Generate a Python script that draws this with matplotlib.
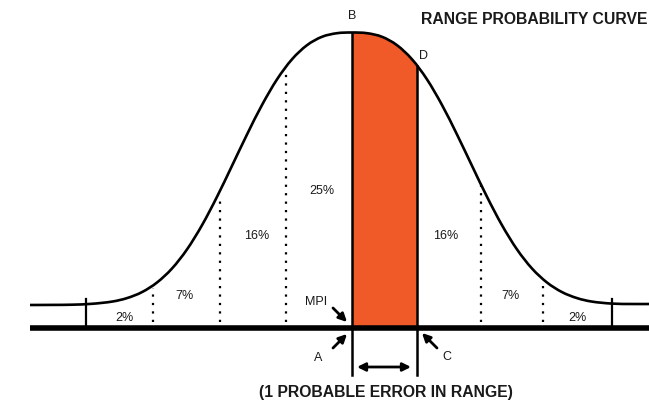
#!/usr/bin/env python3
"""Range probability curve: bell curve with 1 probable error band shaded."""
import matplotlib
matplotlib.use("Agg")
import matplotlib.pyplot as plt
from matplotlib.path import Path
from matplotlib.patches import PathPatch, Rectangle

plt.rcParams["font.family"] = ["Liberation Sans", "DejaVu Sans"]

# curve: horizontal position, height above the base line
curve_x = [30, 52, 72, 92, 112, 127, 142, 157, 172, 187, 202, 217, 232, 247, 262,
           277, 292, 307, 322, 337, 352, 367, 382, 397, 412, 427, 442, 457, 472,
           487, 502, 517, 532, 547, 562, 577, 592, 612, 632, 649]
curve_h = [23, 23.1, 23.3, 24.2, 26.4, 29.9, 35.9, 45.5, 59.5, 78.6, 102.8, 131.2,
           162.2, 193.5, 223.0, 248.6, 268.7, 282.8, 291.2, 294.8, 295.5, 294.8,
           291.2, 282.8, 268.7, 248.6, 223.0, 193.5, 162.2, 131.2, 102.8, 78.6,
           59.5, 45.5, 35.9, 29.9, 26.4, 24.4, 24, 24]

# band of one probable error (MPI -> D)
band_lo, band_hi = 352, 417
band_top = {352: 295.5, 417: 262}

# dotted dividers and their tops
div_x = [153, 220, 286, 481, 543]
div_top = [40, 130, 257, 143, 45]
tick_x = [86, 612]

pct_labels = ["2%", "7%", "16%", "25%", "16%", "7%", "2%"]
pct_x = [124, 184, 257, 322, 446, 510, 577]
pct_h = [10, 32, 92, 137, 92, 32, 10]

ORANGE = "#f05a28"
INK = "#1a1a1a"


def smooth_path(xs, ys):
    """Bezier path through the traced points (Catmull-Rom tangents)."""
    pts = list(zip(xs, ys))
    verts = [pts[0]]
    codes = [Path.MOVETO]
    n = len(pts)
    for i in range(n - 1):
        p0 = pts[max(i - 1, 0)]
        p1 = pts[i]
        p2 = pts[i + 1]
        p3 = pts[min(i + 2, n - 1)]
        c1 = (p1[0] + (p2[0] - p0[0]) / 6, p1[1] + (p2[1] - p0[1]) / 6)
        c2 = (p2[0] - (p3[0] - p1[0]) / 6, p2[1] - (p3[1] - p1[1]) / 6)
        verts += [c1, c2, p2]
        codes += [Path.CURVE4] * 3
    return verts, codes


fig = plt.figure(figsize=(6.49, 4.03), dpi=100)
ax = fig.add_axes([0, 0, 1, 1])
ax.set_xlim(0, 649)
ax.set_ylim(-75, 328)
ax.axis("off")

verts, codes = smooth_path(curve_x, curve_h)

# orange band, clipped to the area under the curve
area = Path(verts + [(curve_x[-1], 0), (curve_x[0], 0), (curve_x[0], 0)],
            codes + [Path.LINETO, Path.LINETO, Path.CLOSEPOLY])
clip = PathPatch(area, transform=ax.transData, facecolor="none", edgecolor="none")
band = Rectangle((band_lo, 0), band_hi - band_lo, max(curve_h) + 5,
                 facecolor=ORANGE, lw=0, zorder=1)
ax.add_patch(band)
band.set_clip_path(clip)

ax.add_patch(PathPatch(Path(verts, codes), facecolor="none", edgecolor="k",
                       lw=1.9, zorder=3))

# base line
ax.plot([30, 649], [0, 0], color="k", lw=4.0, solid_capstyle="butt", zorder=4)

# band edges, down past the base line
for xb in (band_lo, band_hi):
    ax.plot([xb, xb], [-47, band_top[xb]], color="k", lw=1.8, zorder=4)

for xt in tick_x:
    ax.plot([xt, xt], [0, 29], color="k", lw=1.6, zorder=4)

for xd, top in zip(div_x, div_top):
    ax.plot([xd, xd], [6, top], color="k", lw=1.6,
            linestyle=(0, (1, 2.8)), zorder=2)

for s, x, h in zip(pct_labels, pct_x, pct_h):
    ax.text(x, h, s, ha="center", va="center", fontsize=9, color=INK)

ax.text(316, 26, "MPI", ha="center", va="center", fontsize=9, color=INK)
ax.text(318, -30, "A", ha="center", va="center", fontsize=9, color=INK)
ax.text(447, -29, "C", ha="center", va="center", fontsize=9, color=INK)
ax.text(352, 312, "B", ha="center", va="center", fontsize=9, color=INK)
ax.text(423, 272, "D", ha="center", va="center", fontsize=9, color=INK)

ax.text(421, 308, "RANGE PROBABILITY CURVE", ha="left", va="center",
        fontsize=11.3, fontweight="bold", color=INK)
ax.text(386, -65, "(1 PROBABLE ERROR IN RANGE)", ha="center", va="center",
        fontsize=11.3, fontweight="bold", color=INK)

arr = dict(arrowstyle="-|>", color="k", lw=2, mutation_scale=12,
           shrinkA=0, shrinkB=0)
ax.annotate("", xy=(347, 6), xytext=(333, 20), arrowprops=arr)   # MPI
ax.annotate("", xy=(347, -6), xytext=(333, -20), arrowprops=arr)  # A
ax.annotate("", xy=(422, -5), xytext=(437, -20), arrowprops=arr)  # C
ax.annotate("", xy=(411, -39), xytext=(357, -39),
            arrowprops=dict(arrowstyle="<|-|>", color="k", lw=2,
                            mutation_scale=12, shrinkA=0, shrinkB=0))

fig.savefig("out.png", dpi=100)
